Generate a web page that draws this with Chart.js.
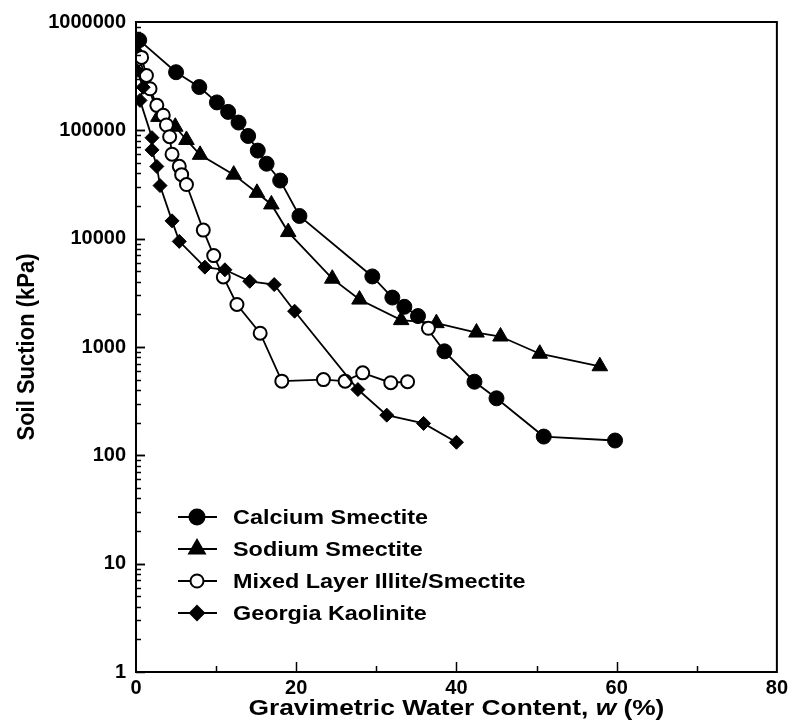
<!DOCTYPE html>
<html>
<head>
<meta charset="utf-8">
<script src="https://cdn.jsdelivr.net/npm/chart.js@4.4.1/dist/chart.umd.min.js"></script>
<style>
  body { margin: 0; background: #fff; }
  canvas { display: block; }
</style>
</head>
<body>
<canvas id="chart" width="792" height="723"></canvas>
<script>
// data (w in %, suction in kPa)
var seriesNames = ["Calcium Smectite", "Sodium Smectite", "Mixed Layer Illite/Smectite", "Georgia Kaolinite"];

var calciumW = [0.4, 5.0, 7.9, 10.1, 11.5, 12.8, 14.0, 15.2, 16.3, 18.0, 20.4, 29.5, 32.0, 33.5, 35.2, 38.5, 42.25, 45.0, 50.9, 59.8];
var calciumS = [680000, 344000, 251000, 181000, 148000, 118000, 88700, 65000, 49200, 34400, 16200, 4480, 2860, 2350, 1930, 912, 478, 336, 149, 137];

var sodiumW = [0.1, 2.8, 4.9, 6.3, 8.0, 12.2, 15.1, 16.9, 19.0, 24.5, 27.9, 33.1, 37.5, 42.5, 45.5, 50.4, 57.9];
var sodiumS = [543000, 133000, 108000, 81500, 59400, 39000, 26500, 20700, 11500, 4270, 2740, 1770, 1660, 1360, 1250, 867, 664];

var mixedW = [0.7, 1.3, 1.75, 2.6, 3.4, 3.8, 4.2, 4.5, 5.4, 5.7, 6.3, 8.4, 9.7, 10.9, 12.6, 15.5, 18.2, 23.4, 26.1, 28.3, 31.8, 33.9, 35.0, 36.5];
var mixedS = [471000, 321000, 242000, 170000, 138000, 112000, 87300, 60200, 46500, 39000, 31600, 12000, 6980, 4430, 2470, 1340, 484, 500, 484, 577, 468, 478, null, 1490];

var kaoliniteW = [0.1, 0.9, 0.5, 2.0, 2.0, 2.6, 3.0, 4.5, 5.4, 8.6, 11.1, 14.2, 17.25, 19.8, 27.7, 31.3, 35.9, 40.0];
var kaoliniteS = [356000, 250000, 189000, 85500, 66000, 46400, 30900, 14600, 9440, 5460, 5160, 4040, 3770, 2140, 405, 235, 197, 132];

var xTicks = [0, 20, 40, 60, 80];
var yTicks = [1, 10, 100, 1000, 10000, 100000, 1000000];

var FONT = "'Liberation Sans', Arial, sans-serif";

function pts(w, s) {
  return w.map(function (v, i) { return { x: v, y: s[i] }; });
}

function makeSet(name, w, s, style, radius, fill) {
  return {
    label: name,
    data: pts(w, s),
    showLine: true,
    borderColor: '#000',
    borderWidth: 1.8,
    pointStyle: style,
    pointRadius: radius,
    pointBackgroundColor: fill,
    pointBorderColor: '#000',
    pointBorderWidth: fill === '#fff' ? 2 : 1,
    spanGaps: false
  };
}

var datasets = [
  makeSet(seriesNames[3], kaoliniteW, kaoliniteS, 'rectRot', 7, '#000'),
  makeSet(seriesNames[2], mixedW, mixedS, 'circle', 6.5, '#fff'),
  makeSet(seriesNames[1], sodiumW, sodiumS, 'triangle', 9, '#000'),
  makeSet(seriesNames[0], calciumW, calciumS, 'circle', 7.5, '#000')
];

// marker for the legend
function marker(ctx, style, x, y, fill) {
  ctx.beginPath();
  if (style === 'circle') {
    ctx.arc(x, y, fill ? 7.5 : 6.5, 0, Math.PI * 2);
  } else if (style === 'triangle') {
    ctx.moveTo(x, y - 9);
    ctx.lineTo(x + 7.8, y + 4.5);
    ctx.lineTo(x - 7.8, y + 4.5);
    ctx.closePath();
  } else {
    ctx.moveTo(x, y - 7);
    ctx.lineTo(x + 7, y);
    ctx.lineTo(x, y + 7);
    ctx.lineTo(x - 7, y);
    ctx.closePath();
  }
  ctx.fillStyle = fill ? '#000' : '#fff';
  ctx.fill();
  ctx.lineWidth = 2;
  ctx.strokeStyle = '#000';
  ctx.stroke();
}

function wideText(ctx, txt, x, y, sx) {
  ctx.save();
  ctx.translate(x, y);
  ctx.scale(sx, 1);
  ctx.fillText(txt, 0, 0);
  ctx.restore();
}

var decor = {
  id: 'decor',
  afterDatasetsDraw: function (chart) {
    var ctx = chart.ctx, a = chart.chartArea;
    var xs = chart.scales.x, ys = chart.scales.y;
    ctx.save();
    ctx.strokeStyle = '#000';
    ctx.lineWidth = 2;
    ctx.strokeRect(a.left, a.top, a.right - a.left, a.bottom - a.top);

    // x ticks, pointing in
    ctx.lineWidth = 1.5;
    for (var v = 10; v < 80; v += 10) {
      var px = Math.round(xs.getPixelForValue(v)) + 0.5;
      var len = v % 20 === 0 ? 10 : 6;
      ctx.beginPath();
      ctx.moveTo(px, a.bottom);
      ctx.lineTo(px, a.bottom - len);
      ctx.stroke();
    }
    // y log ticks
    for (var d = 1; d <= 100000; d *= 10) {
      for (var m = 1; m <= 10; m++) {
        var val = d * m;
        if (val >= 1000000 && m > 1) break;
        var py = Math.round(ys.getPixelForValue(val)) + 0.5;
        var l = (m === 1 || m === 10) ? 9 : 5;
        ctx.beginPath();
        ctx.moveTo(a.left, py);
        ctx.lineTo(a.left + l, py);
        ctx.stroke();
      }
    }

    // legend
    var styles = ['circle', 'triangle', 'circle', 'rectRot'];
    var fills = [true, true, false, true];
    ctx.font = 'bold 20px ' + FONT;
    ctx.textBaseline = 'middle';
    ctx.textAlign = 'left';
    for (var i = 0; i < 4; i++) {
      var ly = 517 + i * 32;
      ctx.beginPath();
      ctx.lineWidth = 1.8;
      ctx.moveTo(178, ly);
      ctx.lineTo(217, ly);
      ctx.stroke();
      marker(ctx, styles[i], 197, ly, fills[i]);
      ctx.fillStyle = '#000';
      wideText(ctx, seriesNames[i], 233, ly + 1, 1.17);
    }

    // axis titles
    ctx.fillStyle = '#000';
    ctx.save();
    ctx.translate(27, (a.top + a.bottom) / 2);
    ctx.rotate(-Math.PI / 2);
    ctx.textAlign = 'center';
    ctx.font = 'bold 22px ' + FONT;
    ctx.scale(1, 1.12);
    ctx.fillText('Soil Suction (kPa)', 0, 0);
    ctx.restore();

    var parts = [
      ['Gravimetric Water Content, ', 'bold 22.5px ' + FONT],
      ['w', 'italic bold 22.5px ' + FONT],
      [' (%)', 'bold 22.5px ' + FONT]
    ];
    var sx = 1.17, total = 0;
    parts.forEach(function (p) { ctx.font = p[1]; total += ctx.measureText(p[0]).width * sx; });
    var cx = (a.left + a.right) / 2 - total / 2;
    ctx.textAlign = 'left';
    parts.forEach(function (p) {
      ctx.font = p[1];
      wideText(ctx, p[0], cx, 709, sx);
      cx += ctx.measureText(p[0]).width * sx;
    });
    ctx.restore();
  }
};

new Chart(document.getElementById('chart'), {
  type: 'scatter',
  data: { datasets: datasets },
  options: {
    responsive: false,
    animation: false,
    layout: { padding: { top: 16, right: 13, left: 0, bottom: 0 } },
    plugins: { legend: { display: false }, tooltip: { enabled: false } },
    scales: {
      x: {
        type: 'linear',
        min: 0, max: 80,
        afterBuildTicks: function (s) { s.ticks = xTicks.map(function (v) { return { value: v }; }); },
        afterFit: function (s) { s.height = 51; },
        grid: { display: false, drawTicks: false },
        border: { display: false },
        ticks: {
          padding: 4, maxRotation: 0, autoSkip: false, color: '#000',
          font: { family: FONT, size: 20, weight: 'bold' }
        }
      },
      y: {
        type: 'logarithmic',
        min: 1, max: 1000000,
        afterBuildTicks: function (s) { s.ticks = yTicks.map(function (v) { return { value: v }; }); },
        afterFit: function (s) { s.width = 136; },
        grid: { display: false, drawTicks: false },
        border: { display: false },
        ticks: {
          padding: 10, color: '#000',
          font: { family: FONT, size: 20, weight: 'bold' },
          callback: function (v) { return String(v); }
        }
      }
    }
  },
  plugins: [decor]
});
</script>
</body>
</html>
